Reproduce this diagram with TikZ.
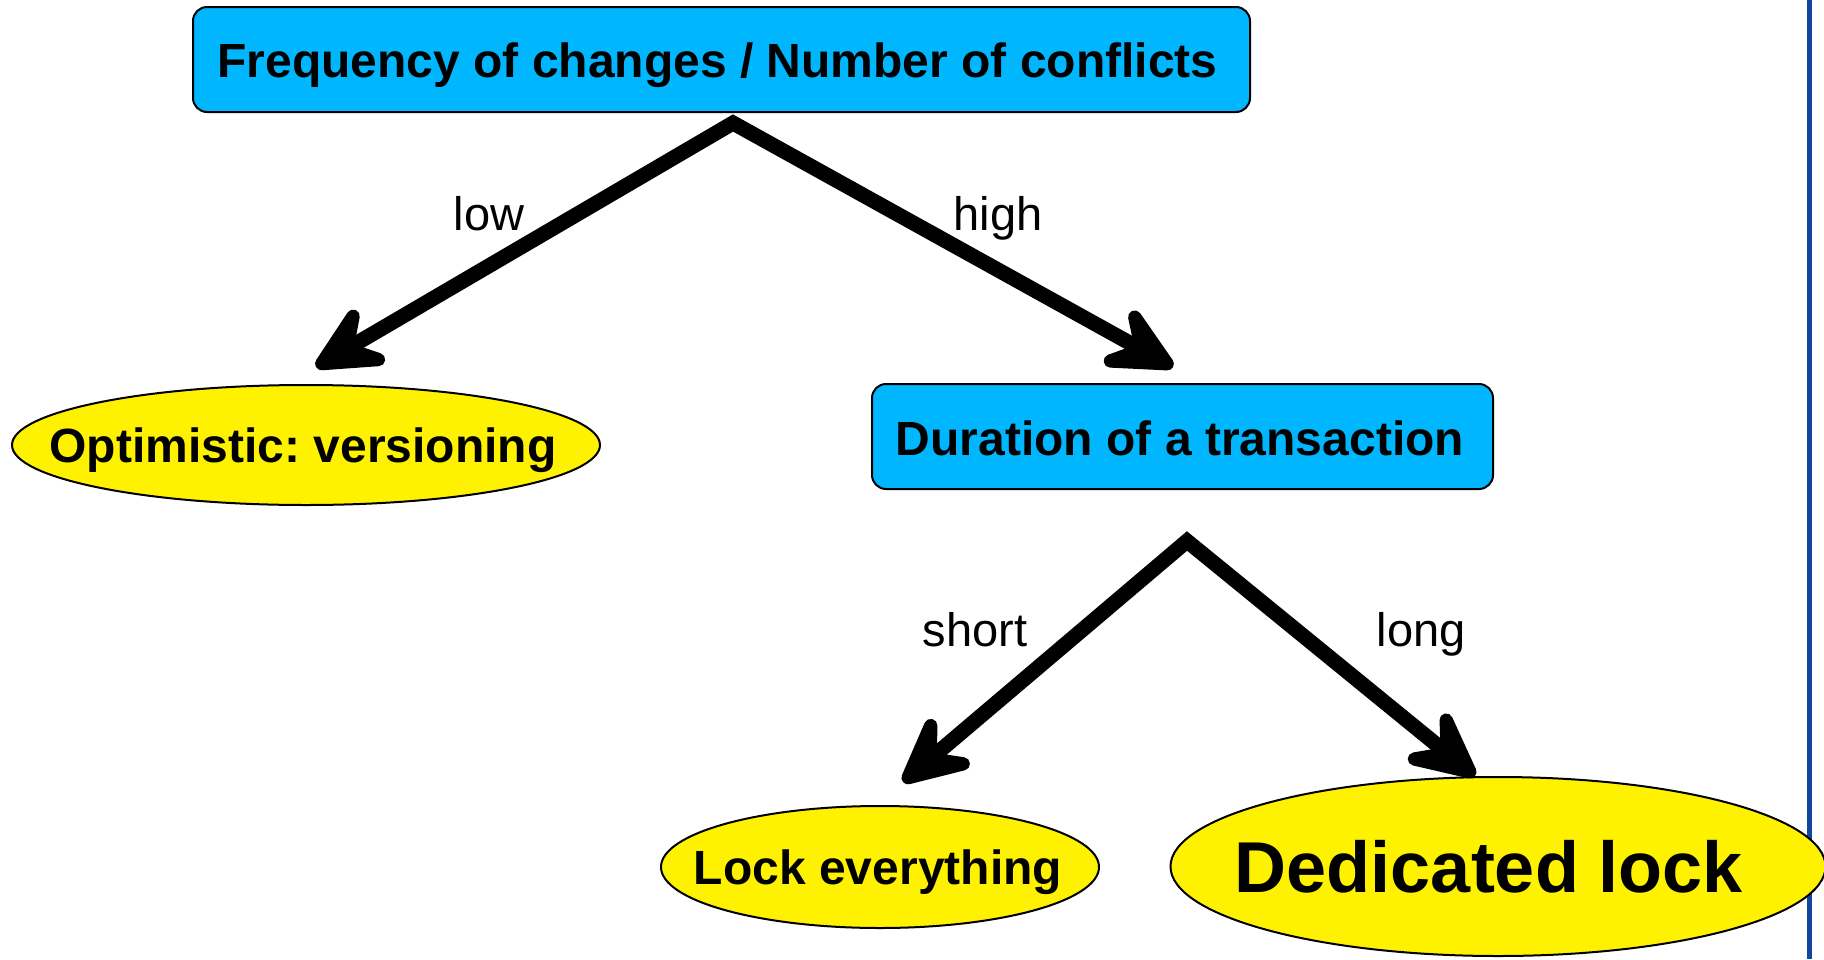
\documentclass[tikz,border=0pt]{standalone}
\usepackage{fontspec}
\setmainfont{Liberation Sans}
\usetikzlibrary{shapes.geometric,arrows.meta}
\definecolor{boxblue}{RGB}{0,183,255}
\definecolor{rule}{RGB}{17,71,160}
\frenchspacing
% text with zero size, its baseline at (#1,#2) from the node centre
\newcommand{\centred}[3]{\makebox[0pt]{\kern#1\raisebox{#2}[0pt][0pt]{#3}}}
\tikzset{bigtip/.tip={Stealth[length=92pt,width=90pt,inset=39pt,round]}}
\begin{document}
\begin{tikzpicture}[x=1pt,y=-1pt,
  qbox/.style={draw=black,line width=2pt,fill=boxblue,rounded corners=14pt,
    inner sep=0pt,font=\fontsize{48}{56}\selectfont\bfseries},
  leaf/.style={ellipse,draw=black,line width=2pt,fill=yellow,inner sep=0pt,
    font=\fontsize{48}{56}\selectfont\bfseries},
  flow/.style={line width=15pt,line join=miter,{bigtip}-{bigtip}},
  lbl/.style={anchor=base,inner sep=0pt,font=\fontsize{47}{56}\selectfont}]
\useasboundingbox (0,0) rectangle (1824,959);
\fill[white] (0,0) rectangle (1824,959);

% vertical rule at the right margin
\draw[rule,line width=5.5pt] (1809.5,0) -- (1809.5,959);

% decision boxes
\node[qbox,minimum width=1057pt,minimum height=105pt] (freq) at (721.5,59.5)
  {\centred{-8pt}{-17.5pt}{Frequency of changes / Number of conflicts}};
\node[qbox,minimum width=621pt,minimum height=105pt] (dur) at (1182.5,436.5)
  {\centred{-5pt}{-19pt}{Duration of a transaction}};

% outcomes
\node[leaf,minimum width=588pt,minimum height=120pt] (opt) at (306,445)
  {\centred{-6pt}{-17.5pt}{Optimistic: versioning}};
\node[leaf,minimum width=438pt,minimum height=122pt] (lock) at (880,867)
  {\centred{-4pt}{-17.5pt}{Lock everything}};
\node[leaf,minimum width=655pt,minimum height=179pt,
  font=\fontsize{72}{84}\selectfont\bfseries] (ded) at (1498,866.5)
  {\centred{-18pt}{-26pt}{Dedicated lock}};

% branch points under each box
\coordinate (fork1) at ([shift={(11.5,10)}]freq.south);
\coordinate (fork2) at ([shift={(4.5,51)}]dur.south);

\draw[flow] ([shift={(10,-17)}]opt.north) -- (fork1) -- ([shift={(-9.5,-16)}]dur.north);
\draw[flow] ([shift={(23,-23)}]lock.north) -- (fork2) -- ([shift={(-23,0)}]ded.north);

% branch labels
\node[lbl] (low) at (489,230) {low};
\node[lbl] (high) at (998,230) {high};
\node[lbl] (short) at (975,646) {short};
\node[lbl] (long) at (1421,646) {long};
\end{tikzpicture}
\end{document}
